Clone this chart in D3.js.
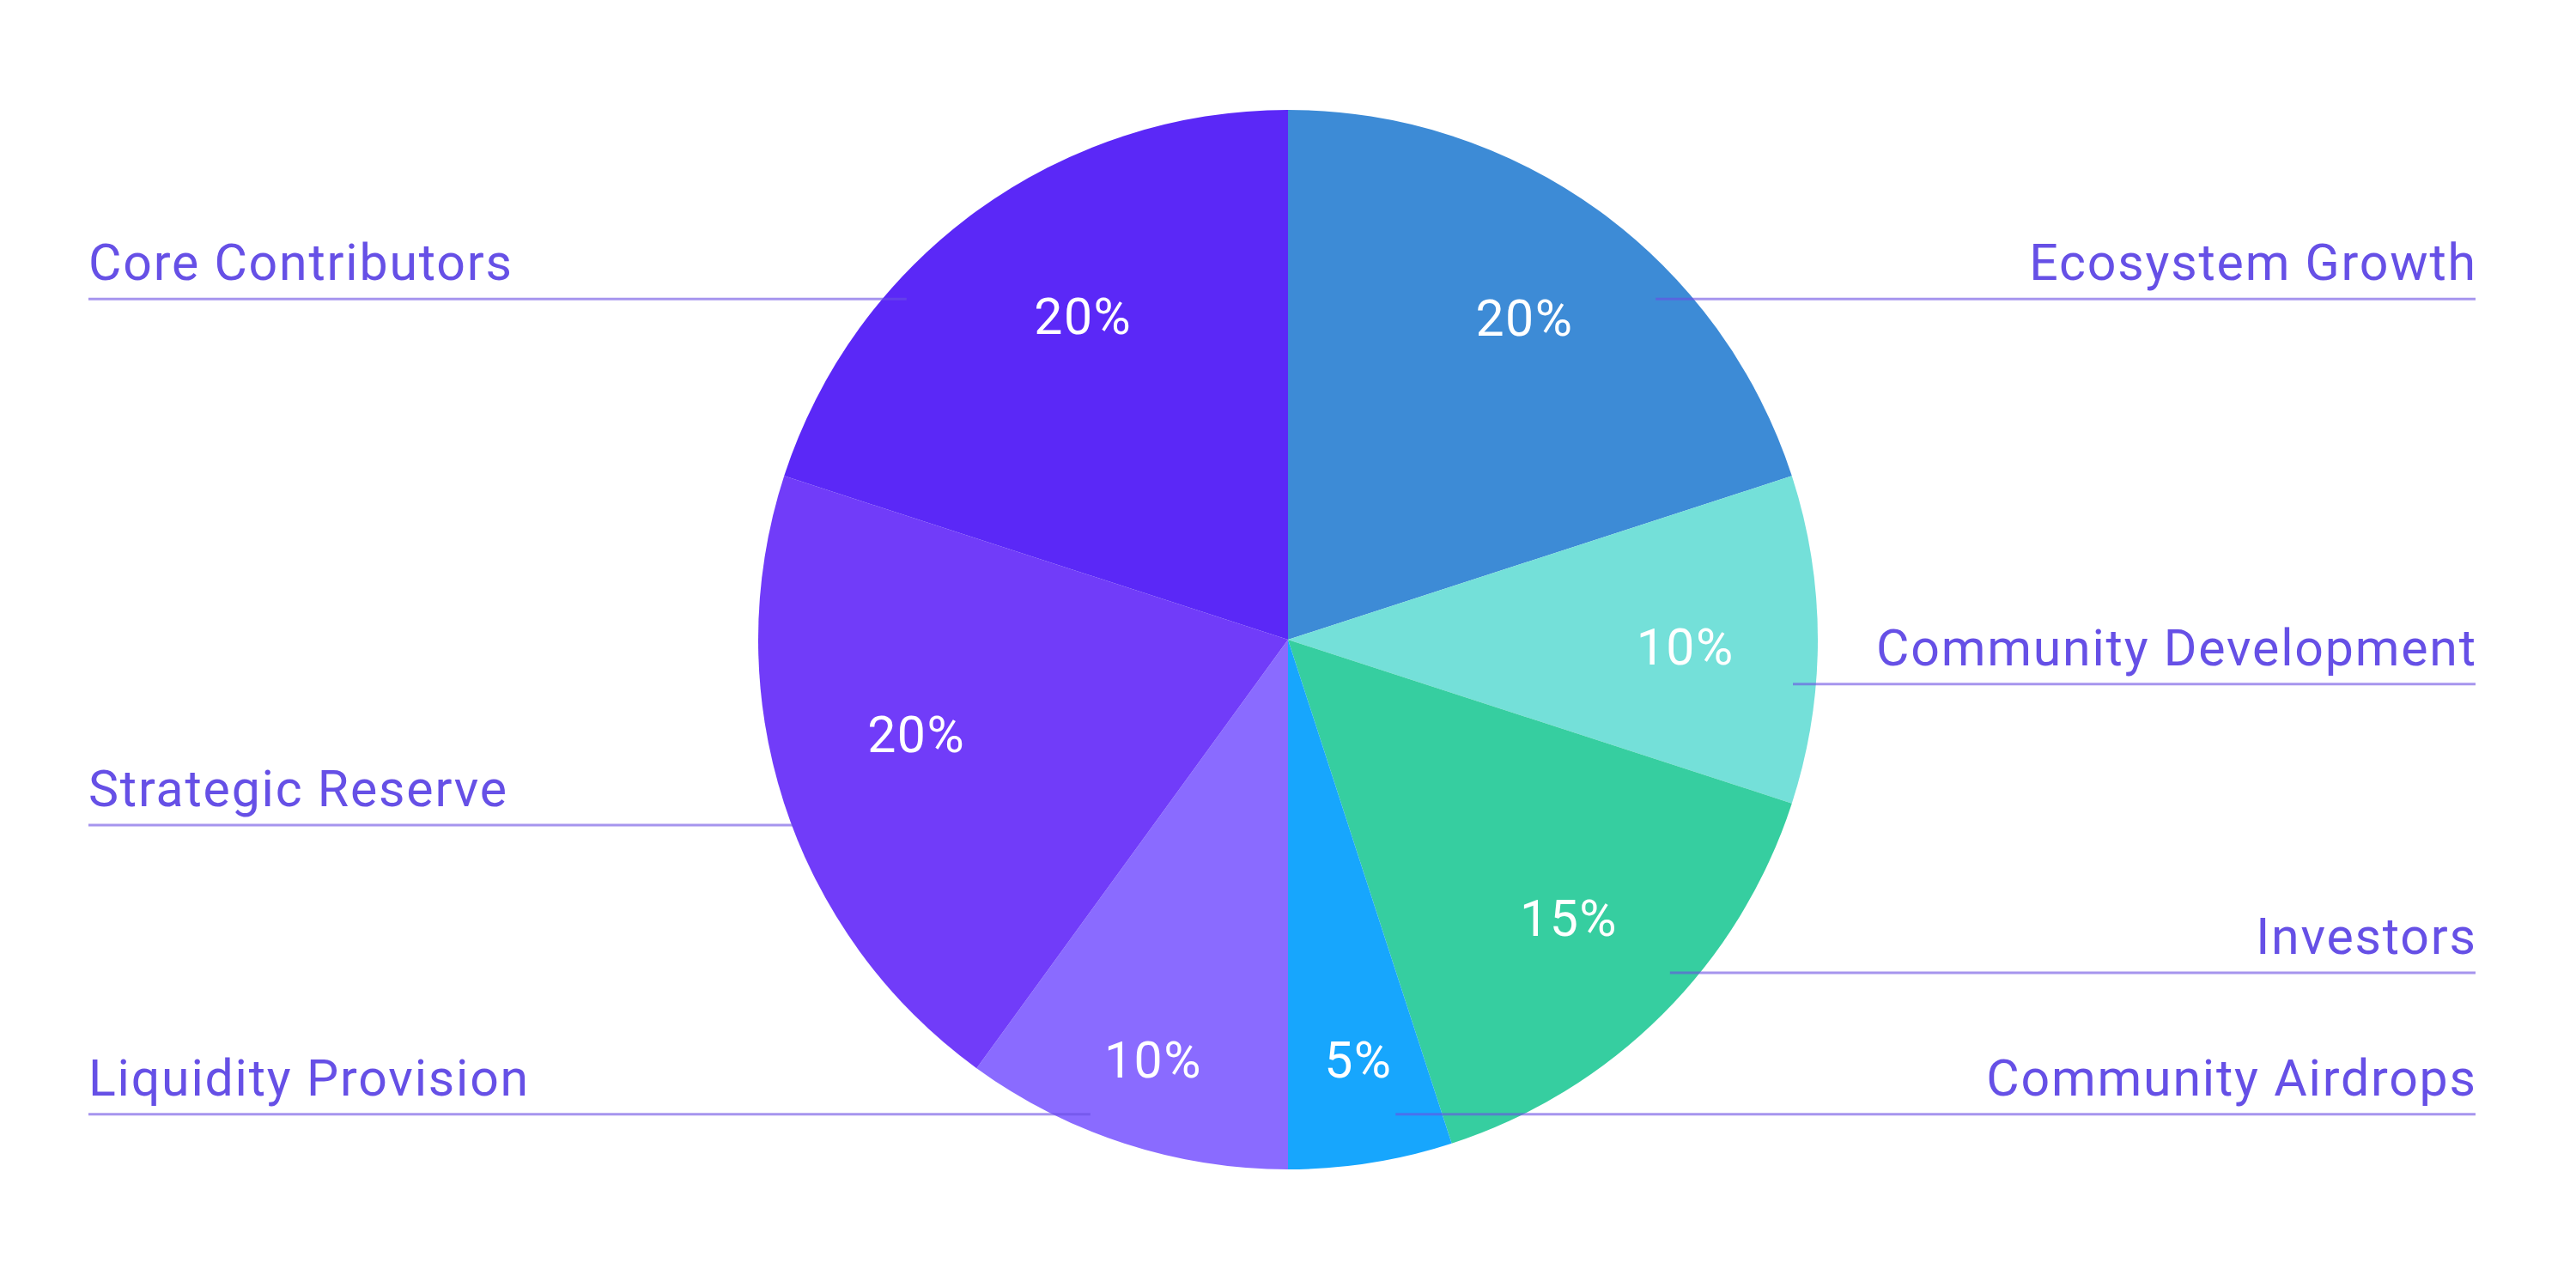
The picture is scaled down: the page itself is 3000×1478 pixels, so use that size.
<!DOCTYPE html>
<html>
<head>
<meta charset="utf-8">
<script src="https://cdn.jsdelivr.net/npm/d3@7"></script>
<style>
  html, body { margin: 0; padding: 0; background: #ffffff; }
  svg { display: block; }
</style>
</head>
<body>
<svg id="chart" width="3000" height="1478"></svg>
<script>
// ---- data ----
const categories = ["Ecosystem Growth", "Community Development", "Investors", "Community Airdrops", "Liquidity Provision", "Strategic Reserve", "Core Contributors"];
const shares = [20, 10, 15, 5, 10, 20, 20];
const sliceColors = ["#3d8bd6", "#74e0d9", "#36cea0", "#17a6fd", "#8a6bff", "#713cf9", "#5b28f7"];
const percentLabels = ["20%", "10%", "15%", "5%", "10%", "20%", "20%"];

// ---- layout (not data) ----
const W = 3000, H = 1478;
const cx = 1500, cy = 745, R = 617;
// percent label polar placement: [radius fraction, angle in degrees from 12 o'clock]
const pctPlacement = [[0.754, 36.3], [0.75, 91.1], [0.747, 134.8], [0.804, 170.5], [0.833, 197.8], [0.724, 255.7], [0.722, 327.6]];
// legend: side, line y and inner line end (fractions of R relative to centre)
const legendSide = ["right", "right", "right", "right", "left", "left", "left"];
const legendInner = [[0.694, -0.643], [0.953, 0.084], [0.721, 0.629], [0.203, 0.896], [-0.373, 0.896], [-0.934, 0.35], [-0.72, -0.643]];
const leftX = 103, rightX = 2883;

const svg = d3.select("#chart");
const g = svg.append("g").attr("transform", `translate(${cx},${cy})`);

const pie = d3.pie().sort(null).value(d => d)(shares);
const arc = d3.arc().innerRadius(0).outerRadius(R);

g.selectAll("path.slice")
  .data(pie)
  .join("path")
  .attr("class", "slice")
  .attr("d", arc)
  .attr("fill", (d, i) => sliceColors[i]);

// percent labels
const toRad = Math.PI / 180;
g.selectAll("text.pct")
  .data(pie)
  .join("text")
  .attr("class", "pct")
  .attr("x", (d, i) => pctPlacement[i][0] * R * Math.sin(pctPlacement[i][1] * toRad))
  .attr("y", (d, i) => -pctPlacement[i][0] * R * Math.cos(pctPlacement[i][1] * toRad))
  .attr("text-anchor", "middle")
  .attr("dominant-baseline", "central")
  .attr("fill", "#ffffff")
  .style("font-family", "Roboto, 'Open Sans', sans-serif")
  .style("font-size", "59px")
  .style("letter-spacing", "1.5px")
  .text((d, i) => percentLabels[i]);

// legend lines + labels
const lg = svg.append("g");
categories.forEach((name, i) => {
  const ly = cy + legendInner[i][1] * R;
  const ix = cx + legendInner[i][0] * R;
  const left = legendSide[i] === "left";
  const outer = left ? leftX : rightX;
  lg.append("line")
    .attr("x1", Math.min(ix, outer)).attr("x2", Math.max(ix, outer))
    .attr("y1", ly).attr("y2", ly)
    .attr("stroke", "#6b4fe3")
    .attr("stroke-opacity", 0.6)
    .attr("stroke-width", 3);
  lg.append("text")
    .attr("x", left ? outer : outer + 1.8)
    .attr("y", ly - 22)
    .attr("text-anchor", left ? "start" : "end")
    .attr("fill", "#6650e6")
    .style("font-family", "Roboto, 'Open Sans', sans-serif")
    .style("font-size", "59px")
    .style("letter-spacing", "1.8px")
    .text(name);
});
</script>
</body>
</html>
